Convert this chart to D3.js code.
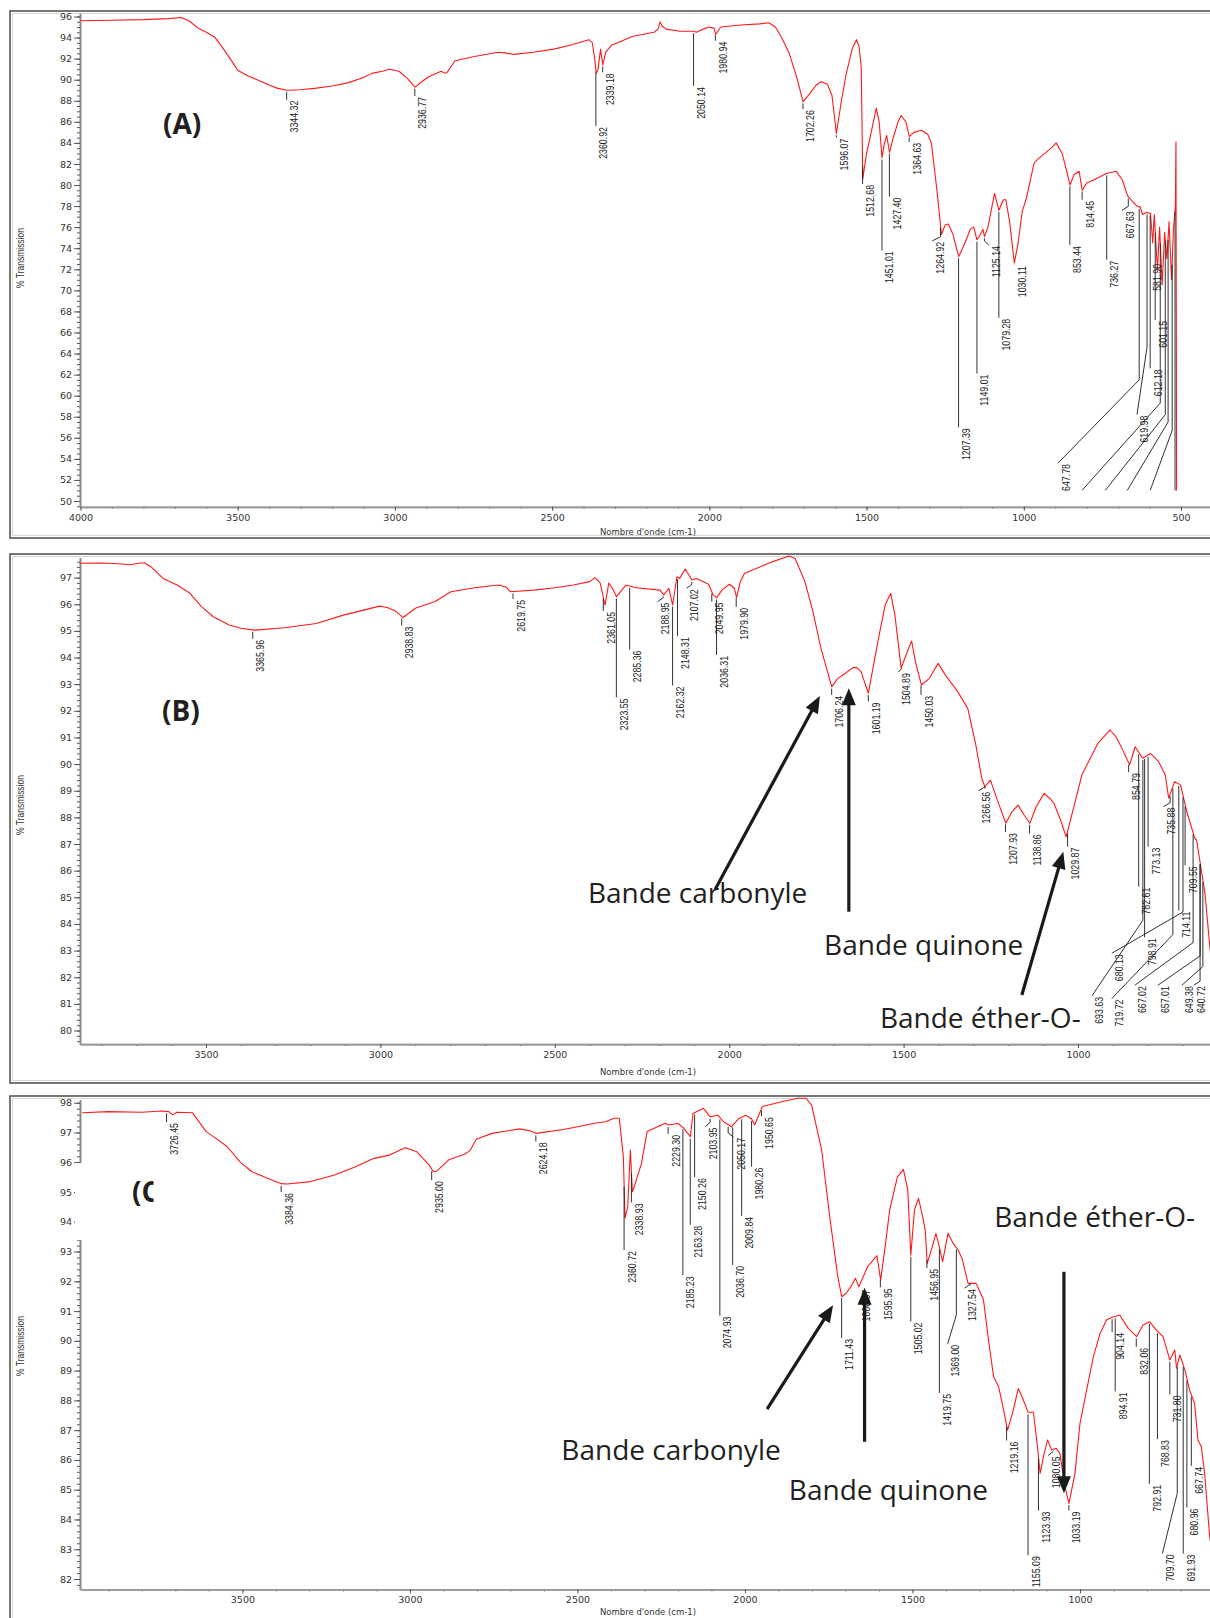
<!DOCTYPE html>
<html lang="fr">
<head>
<meta charset="UTF-8">
<title>Spectres IR (A) (B) (C)</title>
<script src="https://cdn.jsdelivr.net/npm/d3@7"></script>
<style>
  body { margin: 0; background: #fff; }
  svg { display: block; }
</style>
</head>
<body>
<svg id="chart" width="1210" height="1618"></svg>
<script>
// ---- spectra: [wavenumber cm-1, %T] ----
const specA = [[4000,95.6],[3900,95.65],[3800,95.7],[3720,95.8],[3680,95.9],[3655,95.6],[3626,94.9],[3600,94.5],[3572,94.0],[3545,92.9],[3515,91.6],[3500,90.9],[3470,90.4],[3438,90.0],[3400,89.5],[3375,89.2],[3344,89.0],[3300,89.05],[3250,89.2],[3200,89.4],[3150,89.7],[3100,90.2],[3074,90.6],[3040,90.8],[3017,91.0],[2987,90.8],[2960,90.1],[2936,89.3],[2915,89.8],[2891,90.3],[2853,90.8],[2840,90.6],[2834,90.7],[2820,91.3],[2809,91.8],[2747,92.2],[2672,92.6],[2650,92.55],[2621,92.4],[2560,92.6],[2495,92.9],[2440,93.3],[2383,93.8],[2372,93.5],[2364,91.8],[2360,90.6],[2354,91.0],[2346,92.9],[2339,91.4],[2330,92.6],[2310,93.3],[2284,93.6],[2246,94.1],[2176,94.5],[2163,94.8],[2157,95.5],[2150,95.1],[2138,94.8],[2093,94.6],[2050,94.6],[2041,94.5],[2020,94.8],[2002,95.0],[1985,94.9],[1980,94.3],[1975,94.5],[1964,95.0],[1900,95.2],[1840,95.3],[1811,95.4],[1790,95.0],[1772,94.1],[1746,92.5],[1720,90.0],[1702,87.9],[1680,88.7],[1660,89.5],[1645,89.8],[1625,89.6],[1610,88.5],[1596,84.9],[1580,88.0],[1565,90.5],[1545,93.0],[1532,93.8],[1524,93.2],[1517,91.2],[1512,80.6],[1500,83.0],[1486,84.9],[1469,87.3],[1460,86.0],[1451,82.6],[1443,84.0],[1436,84.7],[1427,83.1],[1415,84.5],[1400,86.0],[1390,86.6],[1375,86.0],[1364,84.6],[1350,85.0],[1325,85.2],[1305,84.8],[1294,84.0],[1284,81.5],[1274,78.9],[1262,75.3],[1250,76.2],[1240,76.3],[1225,75.3],[1207,73.2],[1190,74.3],[1170,75.8],[1159,76.0],[1149,74.8],[1140,75.2],[1130,75.8],[1125,75.1],[1114,76.0],[1093,79.2],[1079,77.6],[1065,78.6],[1057,78.6],[1045,76.5],[1030,72.6],[1018,74.5],[1005,77.5],[993,78.6],[967,82.1],[950,82.6],[929,83.1],[910,83.6],[897,84.0],[878,83.0],[860,80.9],[853,80.0],[840,81.0],[824,81.3],[814,79.5],[800,80.2],[776,80.5],[738,81.1],[706,81.3],[687,80.5],[670,79.0],[659,78.6],[640,78.0],[629,77.9],[623,77.2],[610,77.4],[597,77.3],[590,74.5],[585,77.2],[575,72.0],[568,76.0],[560,70.5],[552,75.5],[545,73.0],[538,76.5],[530,71.0],[524,75.8],[518,78.0],[516,84.1],[514,51.0]];

const specB = [[3863,97.54],[3800,97.55],[3750,97.52],[3717,97.48],[3690,97.55],[3676,97.55],[3658,97.41],[3623,96.97],[3583,96.72],[3546,96.41],[3513,95.91],[3479,95.53],[3434,95.22],[3400,95.1],[3360,95.03],[3274,95.12],[3184,95.28],[3104,95.6],[3048,95.78],[3002,95.93],[2980,95.88],[2957,95.75],[2935,95.5],[2915,95.7],[2900,95.85],[2843,96.1],[2798,96.47],[2730,96.62],[2662,96.72],[2640,96.65],[2628,96.47],[2560,96.53],[2500,96.62],[2447,96.72],[2400,96.85],[2385,97.0],[2370,96.8],[2356,95.97],[2345,96.8],[2335,96.6],[2323,96.28],[2319,96.35],[2296,96.72],[2267,96.62],[2198,96.53],[2188,96.35],[2173,96.6],[2162,95.97],[2150,97.03],[2142,96.97],[2126,97.32],[2107,96.91],[2094,96.97],[2059,96.75],[2046,96.35],[2036,96.25],[2020,96.55],[1999,96.75],[1985,96.6],[1979,96.25],[1968,96.85],[1956,97.16],[1921,97.35],[1875,97.6],[1829,97.81],[1811,97.72],[1783,96.85],[1760,95.72],[1737,94.35],[1706,92.9],[1690,93.2],[1668,93.4],[1645,93.62],[1634,93.62],[1622,93.47],[1601,92.66],[1585,93.8],[1570,94.85],[1553,95.97],[1537,96.41],[1525,95.6],[1507,93.6],[1490,94.2],[1477,94.62],[1466,93.84],[1449,92.97],[1426,93.22],[1401,93.78],[1380,93.34],[1345,92.72],[1316,92.09],[1293,90.72],[1276,89.47],[1267,89.15],[1251,89.4],[1230,88.6],[1207,87.78],[1190,88.2],[1172,88.46],[1155,88.1],[1138,87.78],[1120,88.4],[1097,88.9],[1080,88.7],[1069,88.53],[1050,87.9],[1034,87.27],[1010,88.5],[989,89.59],[943,90.78],[908,91.28],[890,91.0],[874,90.59],[852,89.97],[836,90.65],[815,90.22],[792,90.4],[769,90.09],[750,89.6],[740,88.72],[723,89.34],[706,89.22],[688,88.21],[665,87.21],[660,87.15],[636,85.15],[622,83.14],[610,81.8],[600,80.5]];

const specC = [[3978,97.66],[3900,97.7],[3800,97.68],[3740,97.72],[3720,97.7],[3708,97.59],[3695,97.68],[3649,97.66],[3608,97.03],[3573,96.75],[3545,96.52],[3508,96.02],[3472,95.68],[3425,95.46],[3384,95.28],[3366,95.27],[3296,95.35],[3225,95.57],[3166,95.83],[3107,96.13],[3061,96.24],[3014,96.49],[2979,96.35],[2943,95.91],[2930,95.68],[2920,95.7],[2884,96.08],[2837,96.27],[2820,96.4],[2802,96.77],[2755,96.97],[2672,97.12],[2640,97.05],[2624,96.97],[2542,97.1],[2488,97.22],[2449,97.31],[2417,97.36],[2390,97.48],[2375,97.48],[2363,96.19],[2358,94.12],[2350,94.5],[2342,96.41],[2336,95.01],[2327,95.3],[2309,95.96],[2292,97.03],[2238,97.31],[2229,97.25],[2200,97.3],[2185,97.17],[2163,96.86],[2155,97.64],[2124,97.81],[2104,97.53],[2081,97.58],[2064,97.36],[2040,97.19],[2036,97.25],[2020,97.45],[1998,97.58],[1980,97.45],[1971,97.25],[1948,97.87],[1890,98.03],[1842,98.15],[1818,98.15],[1801,97.92],[1771,96.41],[1747,94.17],[1723,92.16],[1711,91.48],[1698,91.6],[1684,91.82],[1670,92.1],[1660,91.82],[1634,92.49],[1606,92.86],[1595,92.04],[1580,93.3],[1568,94.4],[1545,95.51],[1527,95.76],[1514,95.07],[1505,92.88],[1494,94.4],[1482,94.79],[1470,94.2],[1462,93.72],[1456,92.6],[1440,93.2],[1430,93.61],[1420,93.16],[1410,92.66],[1394,93.61],[1380,93.3],[1364,93.05],[1352,92.77],[1334,91.93],[1310,91.93],[1292,91.48],[1288,91.37],[1273,90.03],[1258,88.8],[1243,88.46],[1228,87.68],[1216,87.0],[1199,87.68],[1184,88.4],[1169,88.01],[1155,87.6],[1139,87.6],[1127,86.45],[1119,85.55],[1109,86.11],[1097,86.67],[1084,86.33],[1071,86.39],[1060,86.22],[1045,85.1],[1033,84.54],[1015,85.55],[1000,87.23],[980,88.35],[960,89.47],[940,90.25],[921,90.7],[901,90.81],[881,90.86],[856,90.42],[831,90.14],[812,90.53],[792,90.64],[772,90.36],[752,90.14],[732,89.36],[717,89.69],[712,89.08],[702,89.53],[687,89.02],[673,88.35],[658,87.9],[648,86.67],[638,86.45],[628,85.55],[613,83.42],[600,82.5]];

// ---- peak labels: t = text, top = %T where the label ends,
//      w = leader wavenumber (default: the value), lw = label wavenumber, el = elbow %T ----
const labelsA = [
  {t:"3344.32",top:88.1},{t:"2936.77",top:88.45},{t:"2360.92",top:85.6},{t:"2339.18",top:90.7},
  {t:"2050.14",top:89.4},{t:"1980.94",top:93.7},{t:"1702.26",top:87.2},{t:"1596.07",top:84.5},
  {t:"1512.68",top:80.1},{t:"1451.01",top:73.8},{t:"1427.40",top:78.9},{t:"1364.63",top:84.1},
  {t:"1264.92",top:74.7,lw:1291},{t:"1207.39",top:57.0},{t:"1149.01",top:62.1},
  {t:"1125.14",top:74.3,lw:1111},{t:"1079.28",top:67.4},{t:"1030.11",top:72.4},
  {t:"853.44",top:74.3},{t:"814.45",top:78.6},{t:"736.27",top:72.9},{t:"667.63",top:77.6,lw:687},
  {t:"647.78",w:633,el:61.5,lw:891,top:53.6},{t:"619.98",w:608,el:64.6,lw:640,top:58.2},
  {t:"612.18",w:598,top:62.6},{t:"601.15",w:582,top:67.2},{t:"581.90",w:575,lw:600,top:72.6},
  {t:"",w:566,el:59.3,lw:815,top:51.0},{t:"",w:550,el:58.2,lw:741,top:51.0},
  {t:"",w:541,el:57.5,lw:671,top:51.0},{t:"",w:528,el:56.7,lw:598,top:51.0},{t:"",w:519,top:51.0}
];

const labelsB = [
  {t:"3365.96",top:94.7},{t:"2938.83",top:95.2},{t:"2619.75",top:96.2},{t:"2361.05",top:95.75},
  {t:"2323.55",top:92.5},{t:"2285.36",top:94.3},{t:"2188.95",top:96.1,lw:2205},{t:"2162.32",top:92.95},
  {t:"2148.31",top:94.8},{t:"2107.02",top:96.6,lw:2122},{t:"2049.95",top:96.1},{t:"2036.31",top:94.1},
  {t:"1979.90",top:95.9},{t:"1706.24",top:92.6},{t:"1601.19",top:92.35},{t:"1504.89",top:93.45,lw:1515},
  {t:"1450.03",top:92.6},{t:"1266.56",top:89.0,lw:1285},{t:"1207.93",top:87.45},{t:"1138.86",top:87.4},
  {t:"1029.87",top:86.9},{t:"854.79",top:89.7},{t:"773.13",w:799,top:86.9},{t:"782.61",w:826,top:85.4},
  {t:"798.91",w:809,top:83.5},{t:"735.88",top:88.4,lw:755},{t:"709.55",w:693,top:86.2},
  {t:"714.11",w:711,top:84.5},{t:"693.63",w:814,el:84.14,lw:960,top:81.3},
  {t:"680.13",w:699,el:84.45,lw:903,top:82.9},{t:"719.72",w:728,el:83.6,lw:903,top:81.2},
  {t:"667.02",w:670,el:83.3,lw:837,top:81.7},{t:"657.01",w:650,el:82.8,lw:771,top:81.7},
  {t:"649.38",w:642,el:82.4,lw:702,top:81.7},{t:"640.72",w:650,lw:668,top:81.7}
];

const labelsC = [
  {t:"3726.45",top:97.35},{t:"3384.36",top:95.0},{t:"2935.00",top:95.4},{t:"2624.18",top:96.7},
  {t:"2360.72",top:93.05},{t:"2338.93",top:94.65},{t:"2229.30",top:96.95},{t:"2185.23",top:92.2},
  {t:"2163.28",top:93.9},{t:"2150.26",top:95.5},{t:"2103.95",top:97.2,lw:2118},{t:"2074.93",top:90.85},
  {t:"2050.17",top:96.85,lw:2034},{t:"2036.70",top:92.55},{t:"2009.84",top:94.2},{t:"1980.26",top:95.85},
  {t:"1950.65",top:97.55},{t:"1711.43",top:90.1},{t:"1660.07",top:91.75},{t:"1595.95",top:91.8},
  {t:"1505.02",top:90.65},{t:"1456.95",top:92.45},{t:"1419.75",top:88.25},
  {t:"1369.00",el:90.87,lw:1395,top:89.9},{t:"1327.54",top:91.77,lw:1345},{t:"1219.16",top:86.65},
  {t:"1155.09",top:82.8},{t:"1123.93",top:84.3},{t:"1080.05",top:86.15,lw:1095},{t:"1033.19",top:84.3},
  {t:"904.14",top:90.3},{t:"894.91",top:88.3},{t:"832.06",top:89.8},{t:"792.91",top:85.2},
  {t:"768.83",top:86.7},{t:"731.80",top:88.2},{t:"709.70",el:84.88,lw:754,top:82.86},
  {t:"691.93",top:82.85},{t:"680.96",top:84.4},{t:"667.74",top:85.8}
];

// ---- annotations: arrows [w0, T0, w1(tip), T1(tip)] and notes [text, w, T] ----
const arrowsB = [[2040,85.3,1740,92.56],[1657,84.46,1657,92.85],[1161,81.33,1042,86.71]];
const arrowsC = [[1934,87.71,1737,91.2],[1643,86.61,1643,91.78],[1048,92.32,1048,84.88]];
const notesB = [["Bande carbonyle",2405,84.8],["Bande quinone",1728,82.85],["Bande éther-O-",1568,80.1]];
const notesC = [["Bande carbonyle",2548,86.0],["Bande quinone",1869,84.65],["Bande éther-O-",1256,93.82]];

const xTicksMajor = [4000,3500,3000,2500,2000,1500,1000,500];

// ---- layout ----
const panels = [
  {letter:"A", spec:specA, labels:labelsA, arrows:[], notes:[],
   xDom:[4000,500], xRng:[80.5,1181], yDom:[50,96], yRng:[501,16.5],
   yLow:49.45, yHigh:96.3, yStep:2, yMinor:0.5, top:11, bottom:538, titleY:258, letterPos:[163,134], nomDy:28},
  {letter:"B", spec:specB, labels:labelsB, arrows:arrowsB, notes:notesB,
   xDom:[3500,1000], xRng:[206,1078], yDom:[80,97], yRng:[1030.5,577.6],
   yLow:79.49, yHigh:97.75, yStep:1, yMinor:0.2, top:554, bottom:1083, titleY:805, letterPos:[162,721], nomDy:31},
  {letter:"C", spec:specC, labels:labelsC, arrows:arrowsC, notes:notesC,
   xDom:[3500,1000], xRng:[242.4,1080], yDom:[82,98], yRng:[1579,1102.7],
   yLow:81.65, yHigh:98.1, yStep:1, yMinor:0.2, top:1096, bottom:1660, titleY:1346, letterPos:[132,1202], nomDy:26}
];

const svg = d3.select("#chart");
const plotLeft = 80;

function interpT(spec, w) {
  for (let i = 0; i < spec.length - 1; i++) {
    const a = spec[i], b = spec[i + 1];
    if (w <= a[0] && w >= b[0]) {
      const t = (a[0] - w) / ((a[0] - b[0]) || 1);
      return a[1] + t * (b[1] - a[1]);
    }
  }
  return spec[spec.length - 1][1];
}

function drawPanel(p, idx) {
  const x0 = d3.scaleLinear().domain(p.xDom).range(p.xRng);
  const x = x0.copy().domain([x0.invert(plotLeft), x0.invert(1215)]).range([plotLeft, 1215]);
  const y0 = d3.scaleLinear().domain(p.yDom).range(p.yRng);
  const y = y0.copy().domain([p.yLow, p.yHigh]).range([y0(p.yLow), y0(p.yHigh)]);
  const axisY = y(p.yLow);
  const g = svg.append("g");

  // frame
  g.append("rect").attr("x", 10).attr("y", p.top).attr("width", 1240).attr("height", p.bottom - p.top)
    .attr("fill", "none").attr("stroke", "#4b4b48").attr("stroke-width", 1.5);
  g.append("rect").attr("x", 12.5).attr("y", p.top + 2.5).attr("width", 1240).attr("height", p.bottom - p.top - 5)
    .attr("fill", "none").attr("stroke", "#d9d8cf").attr("stroke-width", 1);

  // y axis
  const yMaj = d3.range(p.yDom[0], p.yDom[1] + 0.001, p.yStep);
  const yMin = d3.range(Math.ceil(p.yLow / p.yMinor) * p.yMinor, p.yHigh, p.yMinor);
  const yAxisMinor = g.append("g").attr("transform", `translate(${plotLeft},0)`)
    .call(d3.axisLeft(y).tickValues(yMin).tickSize(3).tickSizeOuter(0).tickFormat(""));
  const yAxis = g.append("g").attr("transform", `translate(${plotLeft},0)`)
    .call(d3.axisLeft(y).tickValues(yMaj).tickSize(6).tickSizeOuter(0).tickPadding(2).tickFormat(d3.format("d")));
  [yAxisMinor, yAxis].forEach(a => {
    a.select(".domain").attr("stroke", "#8a8a8a").attr("stroke-width", 1.6);
    a.selectAll(".tick line").attr("stroke", "#555");
  });
  yAxis.selectAll("text").attr("font-family", "DejaVu Sans").attr("font-size", 9.5).attr("fill", "#333");

  // x axis
  const xMaj = xTicksMajor.filter(v => v <= x.domain()[0] && v >= x.domain()[1]);
  const xMin = d3.range(Math.floor(x.domain()[0] / 100) * 100, x.domain()[1], -100);
  const xAxisMinor = g.append("g").attr("transform", `translate(0,${axisY})`)
    .call(d3.axisBottom(x).tickValues(xMin).tickSize(2).tickSizeOuter(0).tickFormat(""));
  const xAxis = g.append("g").attr("transform", `translate(0,${axisY})`)
    .call(d3.axisBottom(x).tickValues(xMaj).tickSize(4).tickSizeOuter(0).tickPadding(3).tickFormat(d3.format("d")));
  [xAxisMinor, xAxis].forEach(a => {
    a.select(".domain").attr("stroke", "#9a9a9a").attr("stroke-width", 1.8);
    a.selectAll(".tick line").attr("stroke", "#555");
  });
  xAxis.selectAll("text").attr("font-family", "DejaVu Sans").attr("font-size", 9.5).attr("fill", "#333");

  g.append("text").attr("x", 648).attr("y", axisY + p.nomDy)
    .attr("text-anchor", "middle").attr("font-family", "DejaVu Sans").attr("font-size", 8.5).attr("fill", "#333")
    .text("Nombre d'onde (cm-1)");

  g.append("text").attr("transform", `translate(24,${p.titleY}) rotate(-90) scale(0.85,1)`)
    .attr("text-anchor", "middle").attr("font-family", "Liberation Sans").attr("font-size", 10).attr("fill", "#333")
    .text("% Transmission");

  // spectrum
  g.append("path").datum(p.spec)
    .attr("fill", "none").attr("stroke", "#ff1a1a").attr("stroke-width", 1.1).attr("stroke-linejoin", "round")
    .attr("d", d3.line().x(d => x(d[0])).y(d => y(d[1])));

  // peak labels
  const lab = g.append("g");
  p.labels.forEach(l => {
    const w = l.w !== undefined ? l.w : parseFloat(l.t);
    const lw = l.lw !== undefined ? l.lw : w;
    const cy = y(interpT(p.spec, w)) + 2;
    const pts = [[x(w), cy]];
    if (l.el !== undefined) pts.push([x(w), y(l.el)]);
    else if (lw !== w) pts.push([x(w), Math.min(y(l.top) - 4, Math.max(cy, y(l.top) - 4))]);
    pts.push([x(lw), y(l.top)]);
    if (y(l.top) > cy) {
      lab.append("path").attr("d", d3.line()(pts))
        .attr("fill", "none").attr("stroke", "#1a1a1a").attr("stroke-width", 0.9);
    }
    if (l.t) {
      lab.append("text")
        .attr("transform", `translate(${x(lw) + 11.5},${y(l.top) + 1}) rotate(-90) scale(0.8,1)`)
        .attr("text-anchor", "end").attr("font-family", "Liberation Sans").attr("font-size", 11)
        .attr("fill", "#222").text(l.t);
    }
  });

  // letter
  if (p.letter === "C") {
    // white box that hides part of the axis and clips the letter
    g.append("rect").attr("x", 75).attr("y", 1163).attr("width", 79).attr("height", 77).attr("fill", "#fff");
    svg.append("clipPath").attr("id", "clipC").append("rect")
      .attr("x", 100).attr("y", 1160).attr("width", 53.5).attr("height", 80);
    g.append("text").attr("x", p.letterPos[0]).attr("y", p.letterPos[1]).attr("clip-path", "url(#clipC)")
      .attr("font-family", "Open Sans").attr("font-weight", "bold").attr("font-size", 28).attr("fill", "#231f20")
      .text("(C)");
  } else {
    g.append("text").attr("x", p.letterPos[0]).attr("y", p.letterPos[1])
      .attr("font-family", "Open Sans").attr("font-weight", "bold").attr("font-size", 28).attr("fill", "#231f20")
      .text(`(${p.letter})`);
  }

  // notes
  p.notes.forEach(n => {
    g.append("text").attr("x", x(n[1])).attr("y", y(n[2]))
      .attr("font-family", "Open Sans").attr("font-size", 28).attr("fill", "#231f20").text(n[0]);
  });

  // arrows
  p.arrows.forEach(a => {
    const xa = x(a[0]), ya = y(a[1]), xb = x(a[2]), yb = y(a[3]);
    const len = Math.hypot(xb - xa, yb - ya);
    const ux = (xb - xa) / len, uy = (yb - ya) / len;
    const hl = 17, hw = 7;
    g.append("line").attr("x1", xa).attr("y1", ya).attr("x2", xb - ux * (hl - 2)).attr("y2", yb - uy * (hl - 2))
      .attr("stroke", "#1a1a1a").attr("stroke-width", 3.2);
    const bx = xb - ux * hl, by = yb - uy * hl;
    g.append("path")
      .attr("d", `M${xb},${yb}L${bx - uy * hw},${by + ux * hw}L${bx + uy * hw},${by - ux * hw}Z`)
      .attr("fill", "#1a1a1a");
  });
}

panels.forEach(drawPanel);
</script>
</body>
</html>
